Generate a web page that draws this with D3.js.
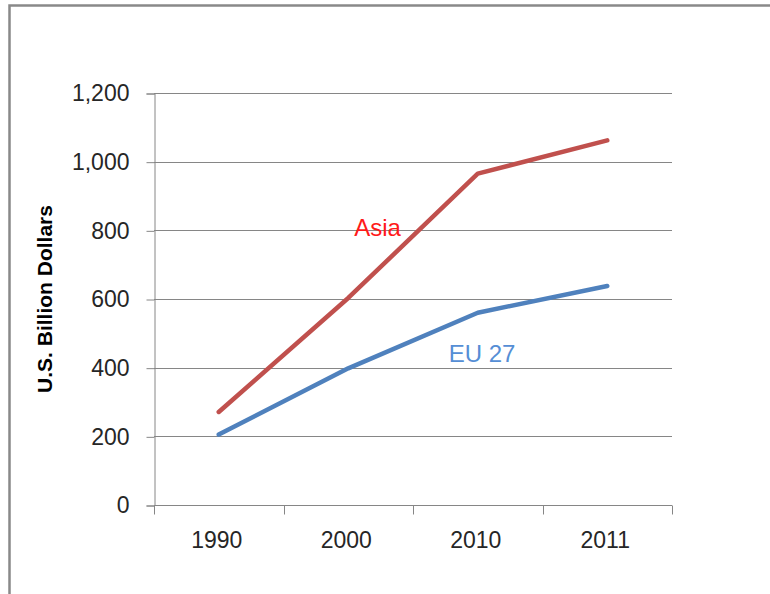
<!DOCTYPE html>
<html>
<head>
<meta charset="utf-8">
<script src="https://cdn.jsdelivr.net/npm/d3@7"></script>
<style>
  html, body { margin: 0; padding: 0; background: #fff; }
  body { width: 770px; height: 594px; overflow: hidden; }
  text { font-family: "Liberation Sans", Arial, sans-serif; }
</style>
</head>
<body>
<div class="lineChart"></div>
<script>
// chart data
const years = ["1990", "2000", "2010", "2011"];
const asia = [271, 603, 965, 1062];
const eu27 = [205, 398, 560, 638];
const yTicks = [0, 200, 400, 600, 800, 1000, 1200];

const width = 770, height = 594;
const margin = {top: 93, bottom: 89, left: 154, right: 98};
const asiaCol = "#c0504d";
const euCol = "#4f81bd";
const gridCol = "#868686";

const svg = d3.select(".lineChart")
    .append("svg")
        .attr("width", width)
        .attr("height", height);

// outer frame (runs off the right / bottom edge like the original)
svg.append("rect")
    .attr("x", 9.5)
    .attr("y", 5.5)
    .attr("width", width + 20)
    .attr("height", height + 20)
    .attr("fill", "none")
    .attr("stroke", "#898989")
    .attr("stroke-width", 2.5);

const xscale = d3.scaleBand()
    .domain(years)
    .range([margin.left, width - margin.right]);

const yscale = d3.scaleLinear()
    .domain([0, 1200])
    .range([height - margin.bottom, margin.top]);

// horizontal gridlines
svg.append("g")
    .selectAll("line")
    .data(yTicks.filter(d => d > 0))
    .enter()
        .append("line")
            .attr("x1", margin.left)
            .attr("x2", width - margin.right)
            .attr("y1", d => Math.round(yscale(d)) + 0.5)
            .attr("y2", d => Math.round(yscale(d)) + 0.5)
            .attr("stroke", gridCol)
            .attr("stroke-width", 1);

// y axis
const yaxis = d3.axisLeft(yscale)
    .tickValues(yTicks)
    .tickSize(8)
    .tickPadding(17)
    .tickFormat(d3.format(","));

svg.append("g")
    .attr("class", "yaxis")
    .attr("transform", `translate(${margin.left + 0.5},0.5)`)
    .call(yaxis)
    .call(g => g.selectAll("path, line").attr("stroke", gridCol))
    .call(g => g.selectAll("text")
        .attr("font-size", 23)
        .attr("fill", "#262626")
        .attr("font-family", "Liberation Sans, Arial, sans-serif"));

// x axis: ticks sit on the band edges
const xaxis = svg.append("g")
    .attr("class", "xaxis")
    .attr("transform", `translate(0,${Math.round(yscale(0)) + 0.5})`);

xaxis.append("line")
    .attr("x1", margin.left)
    .attr("x2", width - margin.right)
    .attr("stroke", gridCol);

const edges = years.map(d => xscale(d)).concat([width - margin.right]);
xaxis.selectAll(".edge")
    .data(edges)
    .enter()
        .append("line")
            .attr("x1", d => Math.round(d) + 0.5)
            .attr("x2", d => Math.round(d) + 0.5)
            .attr("y1", 0)
            .attr("y2", 9)
            .attr("stroke", gridCol);

xaxis.selectAll(".lbl")
    .data(years)
    .enter()
        .append("text")
            .attr("x", d => xscale(d) + xscale.bandwidth() / 2 - 2)
            .attr("y", 42)
            .attr("text-anchor", "middle")
            .attr("font-size", 23)
            .attr("fill", "#262626")
            .text(d => d);

// axis title
svg.append("text")
    .attr("transform", "translate(52,299) rotate(-90)")
    .attr("text-anchor", "middle")
    .attr("font-size", 21)
    .attr("font-weight", "bold")
    .attr("fill", "#000")
    .text("U.S. Billion Dollars");

// lines
const line = d3.line()
    .x((d, i) => xscale(years[i]) + xscale.bandwidth() / 2)
    .y(d => yscale(d));

[[asia, asiaCol], [eu27, euCol]].forEach(([vals, col]) => {
    svg.append("path")
        .datum(vals)
        .attr("d", line)
        .attr("fill", "none")
        .attr("stroke", col)
        .attr("stroke-width", 4.5)
        .attr("stroke-linejoin", "round")
        .attr("stroke-linecap", "round");
});

// series labels
svg.append("text")
    .attr("x", xscale("2000") + xscale.bandwidth() / 2 + 6)
    .attr("y", yscale(800) + 6)
    .attr("font-size", 24)
    .attr("fill", "#ff1a1a")
    .text("Asia");

svg.append("text")
    .attr("x", xscale("2010") + xscale.bandwidth() / 2 - 29)
    .attr("y", yscale(430) + 5)
    .attr("font-size", 24)
    .attr("fill", "#558ed5")
    .text("EU 27");
</script>
</body>
</html>
